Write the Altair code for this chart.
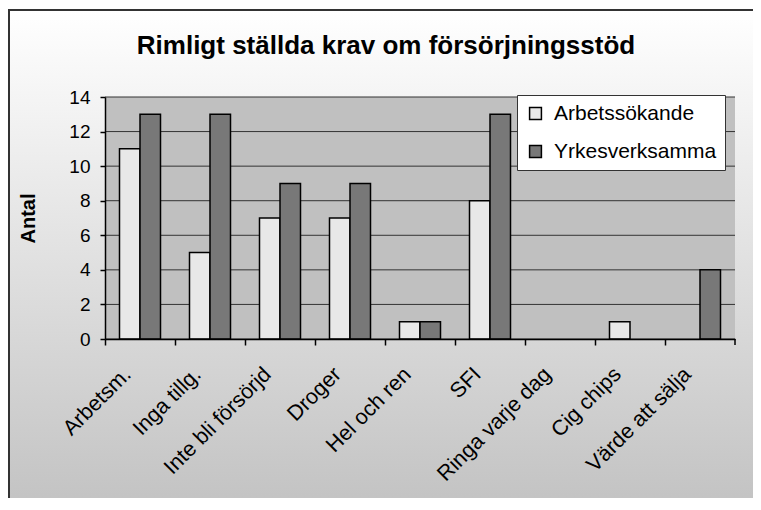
import altair as alt
import pandas as pd

categories = ["Arbetsm.", "Inga tillg.", "Inte bli försörjd", "Droger", "Hel och ren",
              "SFI", "Ringa varje dag", "Cig chips", "Värde att sälja"]
arbetssokande = [11, 5, 7, 7, 1, 8, 0, 1, 0]
yrkesverksamma = [13, 13, 9, 9, 1, 13, 0, 0, 4]
series = ["Arbetssökande", "Yrkesverksamma"]
series_colors = ["#e8e8e8", "#787878"]
y_ticks = [0, 2, 4, 6, 8, 10, 12, 14]

rows = []
for c, a, y in zip(categories, arbetssokande, yrkesverksamma):
    rows.append({"cat": c, "series": series[0], "value": a})
    rows.append({"cat": c, "series": series[1], "value": y})
df = pd.DataFrame(rows)

W, H = 630, 242
FONT = "Liberation Sans"

y_scale = alt.Scale(domain=[0, 14], nice=False)
y_axis = alt.Axis(
    title="Antal", grid=False, values=y_ticks,
    labelFont=FONT, labelFontSize=19, labelColor="black", labelPadding=10,
    tickSize=5, tickColor="black", tickWidth=1.5,
    domainColor="black", domainWidth=1.5,
    titleFont=FONT, titleFontSize=20, titleFontWeight="bold", titleColor="black",
    titleAngle=270, titleX=-77, titleY=121, titleAlign="center", titleBaseline="middle",
    zindex=1,
)

one = alt.Data(values=[{}])

bg = alt.Chart(one).mark_rect(
    fill=alt.Gradient(
        gradient="linear",
        stops=[alt.GradientStop(color="#ffffff", offset=0),
               alt.GradientStop(color="#c2c2c2", offset=1)],
        x1=0, x2=0, y1=0, y2=1,
    ),
).encode(x=alt.value(-97), x2=alt.value(W + 100), y=alt.value(-87), y2=alt.value(415))

frame_left = alt.Chart(one).mark_rule(color="#333333", strokeWidth=2).encode(
    x=alt.value(-96), y=alt.value(-88), y2=alt.value(415)
)
frame_top = alt.Chart(one).mark_rule(color="#333333", strokeWidth=2).encode(
    x=alt.value(-97), x2=alt.value(W + 100), y=alt.value(-87)
)

plot_bg = alt.Chart(one).mark_rect(fill="#c0c0c0").encode(
    x=alt.value(0), x2=alt.value(W), y=alt.value(0), y2=alt.value(H)
)

grid = alt.Chart(pd.DataFrame({"value": y_ticks})).mark_rule(
    color="#333333", strokeWidth=1
).encode(
    y=alt.Y("value:Q", scale=y_scale, axis=y_axis),
    x=alt.value(0), x2=alt.value(W),
)

bars = alt.Chart(df).mark_bar(stroke="black", strokeWidth=1.5).encode(
    x=alt.X("cat:N", scale=alt.Scale(domain=categories, paddingInner=0, paddingOuter=0),
            axis=alt.Axis(
                title=None, bandPosition=0, labelOffset=-12, labelAngle=315,
                labelAlign="right", labelBaseline="middle", labelPadding=26,
                labelFont=FONT, labelFontSize=21.5, labelColor="black", labelLimit=400,
                labelOverlap=False,
                tickSize=6, tickColor="black", tickWidth=1.5,
                domainColor="black", domainWidth=1.5, grid=False, zindex=1,
            )),
    xOffset=alt.XOffset("series:N", scale=alt.Scale(domain=series, paddingInner=0, paddingOuter=0.707)),
    y=alt.Y("value:Q", scale=y_scale, axis=y_axis),
    color=alt.Color("series:N", scale=alt.Scale(domain=series, range=series_colors),
                    legend=alt.Legend(
                        title=None, orient="none", legendX=412, legendY=-2,
                        direction="vertical", fillColor="white", strokeColor="#333333",
                        padding=8, symbolType="square", symbolSize=140,
                        symbolStrokeColor="black", symbolStrokeWidth=1.5,
                        labelFont=FONT, labelFontSize=21, labelColor="black",
                        labelOffset=8, labelLimit=400, rowPadding=16, zindex=1,
                    )),
).transform_filter("datum.value > 0")

last_tick = alt.Chart(one).mark_rule(color="black", strokeWidth=1.5).encode(
    x=alt.value(W), y=alt.value(H), y2=alt.value(H + 6)
)

chart = alt.layer(bg, frame_left, frame_top, plot_bg, grid, bars, last_tick).properties(
    width=W, height=H,
    title=alt.Title("Rimligt ställda krav om försörjningsstöd", font=FONT, fontSize=26,
                    fontWeight="bold", color="black", anchor="middle", frame="group",
                    dx=-34, offset=-72, baseline="alphabetic", zindex=1),
    padding={"left": 97, "top": 89, "right": 18, "bottom": 159},
    autosize=alt.AutoSizeParams(type="none"),
).configure_view(stroke="transparent").configure(background="white")

chart.save("out.html", embed_options={"renderer": "svg", "actions": False})
